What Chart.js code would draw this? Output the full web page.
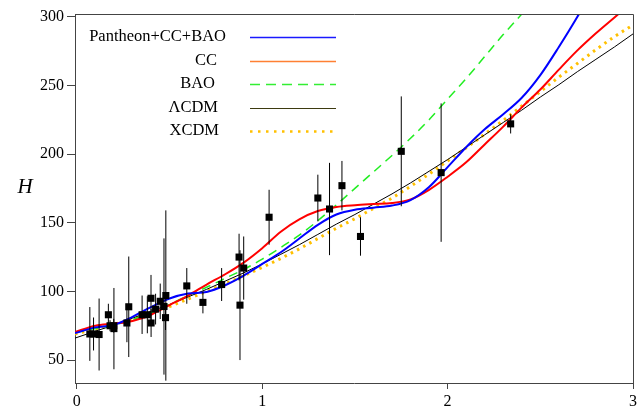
<!DOCTYPE html>
<html>
<head>
<meta charset="utf-8">
<script src="https://cdn.jsdelivr.net/npm/chart.js@4.4.0/dist/chart.umd.min.js"></script>
<style>
  html, body { margin: 0; padding: 0; background: #fff; }
  #wrap { width: 643px; height: 409px; }
</style>
</head>
<body>
<div id="wrap"><canvas id="hubbleChart"></canvas></div>
<script>
// observed H(z) points and their 1-sigma errors
const zObs = [0.07, 0.09, 0.12, 0.17, 0.179, 0.199, 0.2, 0.27, 0.28, 0.352, 0.3802, 0.4, 0.4004, 0.4247, 0.4497, 0.47, 0.4783, 0.48,
  0.593, 0.68, 0.781, 0.875, 0.88, 0.9, 1.037, 1.3, 1.363, 1.43, 1.53, 1.75, 1.965, 2.34];
const hObs = [69, 69, 68.6, 83, 75, 75, 72.9, 77, 88.8, 83, 83, 95, 77, 87.1, 92.8, 89, 80.9, 97,
  104, 92, 105, 125, 90, 117, 154, 168, 160, 177, 140, 202, 186.5, 222];
const hErr = [19.6, 12, 26.2, 8, 4, 5, 29.6, 14, 36.6, 14, 13.5, 17, 10.2, 11.2, 12.9, 49.6, 9, 62,
  13, 8, 12, 17, 40, 23, 20, 17, 33.6, 18, 14, 40, 50.4, 7];

// curves at these redshifts
const zGrid = [-0.01, 0.1, 0.2, 0.3, 0.4, 0.5, 0.6, 0.7, 0.8, 0.9, 1.0, 1.1, 1.2, 1.3, 1.4, 1.5,
  1.6, 1.7, 1.8, 1.9, 2.0, 2.1, 2.2, 2.3, 2.4, 2.5, 2.6, 2.7, 2.8, 2.9, 3.0];
const hJoint = [69.6, 73.8, 75.5, 81.5, 88.5, 94.8, 98.4, 99.6, 104.5, 111.5, 120, 128.5, 138.5, 148.5, 156, 159.5,
  161, 162.5, 166.5, 176, 190.5, 205, 218, 229, 241, 257.5, 278, 300, 324, 350, 378];
const hCC = [70.4, 75, 76.5, 78.5, 83, 90, 97, 105, 112.5, 121, 131.5, 143.5, 152.5, 158.5, 161.5, 162.8,
  163.6, 164.3, 167, 174, 183.5, 194, 207, 220, 234, 247, 261.5, 275.5, 288, 299.5, 311];
const hBAO = [70, 73, 75.5, 79.5, 84.5, 90.5, 97, 103, 109.5, 116, 123.5, 132, 141, 151.5, 163, 175,
  187, 199, 211.5, 225, 240, 255, 271, 287, 302, 318, 334, 350, 366, 382, 398];
const hLCDM = [66, 71, 75.5, 80.5, 85.5, 90.5, 96, 101.5, 107.5, 113.5, 120, 127, 134, 141.5, 149, 156,
  163.5, 171, 179, 187.5, 196, 205, 214, 223, 232, 241.5, 250.5, 260, 269, 278, 287.5];
const hXCDM = [69, 72.5, 76, 80, 84.5, 89, 94.5, 100, 105.5, 111.5, 117.5, 124, 131, 138.5, 146, 153,
  160.5, 168, 176.5, 185.5, 195, 204.5, 214.5, 224.5, 235, 245.5, 256, 266, 276, 285.5, 294];

const seriesNames = ['Pantheon+CC+BAO', 'CC', 'BAO', '\u039BCDM', 'XCDM'];
const xTicks = [0, 1, 2, 3];
const yTicks = [50, 100, 150, 200, 250, 300];

const toPts = (ys) => zGrid.map((z, i) => ({ x: z, y: ys[i] }));
const serif = '"Liberation Serif", "Times New Roman", serif';

const curve = (label, ys, color, width, dash, order) => ({
  type: 'line',
  label: label,
  data: toPts(ys),
  borderColor: color,
  borderWidth: width,
  borderDash: dash,
  pointRadius: 0,
  fill: false,
  cubicInterpolationMode: 'monotone',
  clip: 0,
  order: order
});

// legend entries drawn by hand: text right edge, row y, line style
const legendRows = [
  { right: 226, y: 37, color: '#1a1aff', width: 1.5, dash: [] },
  { right: 217, y: 61, color: '#ff8033', width: 1.5, dash: [] },
  { right: 215, y: 84, color: '#33ee33', width: 1.5, dash: [10, 6] },
  { right: 218, y: 108, color: '#3d3a10', width: 1.2, dash: [] },
  { right: 219, y: 131, color: '#ffc000', width: 2.5, dash: [2.5, 5.5] }
];

const extras = {
  id: 'extras',
  afterDatasetsDraw(chart) {
    const { ctx, scales: { x, y } } = chart;
    const area = chart.chartArea;
    ctx.save();
    ctx.beginPath();
    ctx.rect(area.left, area.top, area.right - area.left, area.bottom - area.top);
    ctx.clip();
    ctx.strokeStyle = '#000';
    ctx.lineWidth = 1;
    zObs.forEach((z, i) => {
      const px = x.getPixelForValue(z);
      ctx.beginPath();
      ctx.moveTo(px, y.getPixelForValue(hObs[i] - hErr[i]));
      ctx.lineTo(px, y.getPixelForValue(hObs[i] + hErr[i]));
      ctx.stroke();
    });
    ctx.restore();
  },
  afterDraw(chart) {
    const { ctx } = chart;
    const a = chart.chartArea;
    ctx.save();
    // frame top + right
    ctx.strokeStyle = '#444';
    ctx.lineWidth = 1;
    ctx.beginPath();
    ctx.moveTo(a.left, a.top + 0.5);
    ctx.lineTo(a.right + 0.5, a.top + 0.5);
    ctx.lineTo(a.right + 0.5, a.bottom);
    ctx.stroke();

    // legend
    ctx.font = '16.5px ' + serif;
    ctx.fillStyle = '#000';
    ctx.textAlign = 'right';
    ctx.textBaseline = 'middle';
    legendRows.forEach((r, i) => {
      ctx.fillText(seriesNames[i], r.right, r.y);
      ctx.beginPath();
      ctx.strokeStyle = r.color;
      ctx.lineWidth = r.width;
      ctx.setLineDash(r.dash);
      ctx.moveTo(250, r.y + 0.5);
      ctx.lineTo(336, r.y + 0.5);
      ctx.stroke();
    });
    ctx.setLineDash([]);

    // axis name
    ctx.font = 'italic 21px ' + serif;
    ctx.textAlign = 'center';
    ctx.fillText('H', 25, 187);
    ctx.restore();
  }
};

new Chart(document.getElementById('hubbleChart'), {
  type: 'scatter',
  data: {
    datasets: [
      {
        type: 'scatter',
        label: 'data',
        data: zObs.map((z, i) => ({ x: z, y: hObs[i] })),
        pointStyle: 'rect',
        pointRadius: 5,
        backgroundColor: '#000',
        borderColor: '#000',
        borderWidth: 0,
        order: 0
      },
      curve(seriesNames[0], hJoint, '#0000ff', 2, [], 1),
      curve(seriesNames[1], hCC, '#ff0000', 2, [], 2),
      curve(seriesNames[2], hBAO, '#22ee22', 1.5, [9, 6], 3),
      curve(seriesNames[3], hLCDM, '#000000', 1, [], 4),
      curve(seriesNames[4], hXCDM, '#ffc000', 3, [2.5, 4.5], 5)
    ]
  },
  options: {
    responsive: true,
    maintainAspectRatio: false,
    animation: false,
    events: [],
    layout: { padding: { top: 14, right: 10, left: 0, bottom: 0 } },
    plugins: { legend: { display: false }, tooltip: { enabled: false } },
    scales: {
      x: {
        type: 'linear',
        min: -0.01,
        max: 3.0,
        afterBuildTicks: (s) => { s.ticks = xTicks.map(v => ({ value: v })); },
        afterFit: (s) => { s.height = 26; },
        grid: { drawOnChartArea: false, drawTicks: true, tickLength: 6, color: '#444' },
        border: { display: true, color: '#444', width: 1 },
        ticks: { color: '#000', padding: 3, font: { family: serif, size: 16 } }
      },
      y: {
        type: 'linear',
        min: 33.3,
        max: 302,
        afterBuildTicks: (s) => { s.ticks = yTicks.map(v => ({ value: v })); },
        afterFit: (s) => { s.width = 75; },
        grid: { drawOnChartArea: false, drawTicks: true, tickLength: 8, color: '#444' },
        border: { display: true, color: '#444', width: 1 },
        ticks: { color: '#000', padding: 3, font: { family: serif, size: 16 } }
      }
    }
  },
  plugins: [extras]
});
</script>
</body>
</html>
